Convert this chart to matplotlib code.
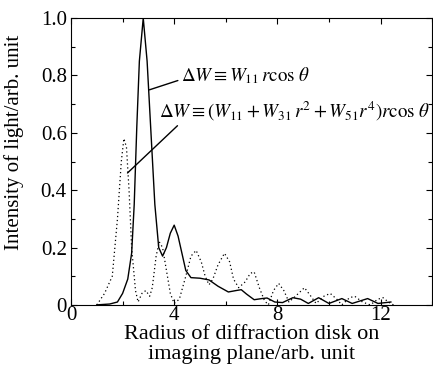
import matplotlib
matplotlib.use("Agg")
import matplotlib.pyplot as plt
from matplotlib.ticker import MultipleLocator, FixedLocator

plt.rcParams["font.family"] = ["Liberation Serif", "DejaVu Serif"]
plt.rcParams["mathtext.fontset"] = "stix"

# Curva sólida: dW = W11 r cos(theta)
solid_x = [1.0, 1.5, 1.8, 2.0, 2.2, 2.35, 2.45, 2.55, 2.65, 2.8, 2.95, 3.1,
           3.25, 3.4, 3.55, 3.7, 3.85, 4.0, 4.15, 4.3, 4.45, 4.65, 5.0, 5.35,
           5.7, 6.1, 6.4, 6.6, 6.8, 7.1, 7.4, 7.6, 7.9, 8.2, 8.6, 8.9, 9.2,
           9.6, 10.0, 10.5, 10.9, 11.5, 11.9, 12.4]
solid_y = [0.0, 0.003, 0.01, 0.04, 0.09, 0.18, 0.35, 0.62, 0.85, 1.0, 0.85, 0.6,
           0.35, 0.2, 0.17, 0.2, 0.25, 0.278, 0.24, 0.18, 0.12, 0.095, 0.093, 0.087,
           0.065, 0.045, 0.05, 0.053, 0.038, 0.018, 0.022, 0.024, 0.01, 0.008, 0.025, 0.02, 0.005,
           0.025, 0.005, 0.022, 0.005, 0.022, 0.005, 0.01]

# Curva pontilhada: dW = (W11 + W31 r^2 + W51 r^4) r cos(theta)
dot_x = [1.0, 1.3, 1.6, 1.8, 1.95, 2.05, 2.15, 2.25, 2.35, 2.5, 2.6, 2.75, 2.9,
         3.05, 3.15, 3.3, 3.42, 3.55, 3.7, 3.85, 4.0, 4.2, 4.45, 4.65, 4.85,
         5.05, 5.2, 5.35, 5.5, 5.7, 5.95, 6.15, 6.3, 6.5, 6.75, 6.95, 7.1, 7.3,
         7.5, 7.65, 7.85, 8.05, 8.25, 8.45, 8.7, 9.05, 9.3, 9.5, 9.8, 10.05,
         10.3, 10.5, 10.8, 11.0, 11.3, 11.6, 11.9, 12.1, 12.3, 12.5]
dot_y = [0.0, 0.04, 0.1, 0.3, 0.5, 0.58, 0.55, 0.4, 0.2, 0.05, 0.01, 0.04, 0.05,
         0.03, 0.06, 0.17, 0.22, 0.2, 0.12, 0.04, 0.005, 0.02, 0.1, 0.17, 0.19,
         0.15, 0.1, 0.07, 0.09, 0.14, 0.18, 0.15, 0.09, 0.06, 0.08, 0.11, 0.115, 0.06,
         0.015, 0.0, 0.05, 0.075, 0.05, 0.01, 0.03, 0.06, 0.03, 0.005, 0.03, 0.04,
         0.02, 0.0, 0.025, 0.03, 0.01, 0.0, 0.02, 0.025, 0.01, 0.0]

x_ticks = [0, 4, 8, 12]
y_ticks = [0, 0.2, 0.4, 0.6, 0.8, 1.0]
y_labels = ["0", "0.2", "0.4", "0.6", "0.8", "1.0"]

fig = plt.figure(figsize=(4.33, 3.70), dpi=100)
ax = fig.add_axes([0.164, 0.176, 0.834, 0.775])

ax.plot(solid_x, solid_y, color="black", lw=1.0)
ax.plot(dot_x, dot_y, color="black", lw=0.9, linestyle=(0, (1, 2.2)))

ax.set_xlim(0, 14)
ax.set_ylim(0, 1.0)
ax.xaxis.set_major_locator(FixedLocator(x_ticks))
ax.xaxis.set_minor_locator(MultipleLocator(2))
ax.yaxis.set_major_locator(FixedLocator(y_ticks))
ax.set_yticklabels(y_labels)
ax.yaxis.set_minor_locator(MultipleLocator(0.1))
ax.tick_params(which="both", direction="in", top=True, right=True,
               labelsize=15, width=0.8)
ax.tick_params(which="major", length=4)
ax.tick_params(which="minor", length=3)
ax.tick_params(axis="x", pad=1)
ax.tick_params(axis="y", pad=3)

ax.set_xlabel("Radius of diffraction disk on\nimaging plane/arb. unit",
              fontsize=16, labelpad=0, linespacing=1.05)
ax.set_ylabel("Intensity of light/arb. unit", fontsize=15)
ax.yaxis.set_label_coords(-0.13, 0.568)

# Anotações
ax.annotate(r"$\Delta W \equiv W_{11}\, r\cos\,\theta$",
            xy=(3.04, 0.75), xytext=(4.25, 0.80),
            fontsize=13.7, va="center", ha="left",
            arrowprops=dict(arrowstyle="-", color="black", lw=1.0,
                            shrinkA=0, shrinkB=0, relpos=(0, 0.3)))
ax.annotate(r"$\Delta W \equiv (W_{11}+W_{31}\,r^2+W_{51}r^4)r\cos\,\theta$",
            xy=(2.19, 0.46), xytext=(3.4, 0.675),
            fontsize=13.7, va="center", ha="left",
            arrowprops=dict(arrowstyle="-", color="black", lw=1.0,
                            shrinkA=0, shrinkB=0, relpos=(0.08, 0.0)))

fig.savefig("out.png", dpi=100)
